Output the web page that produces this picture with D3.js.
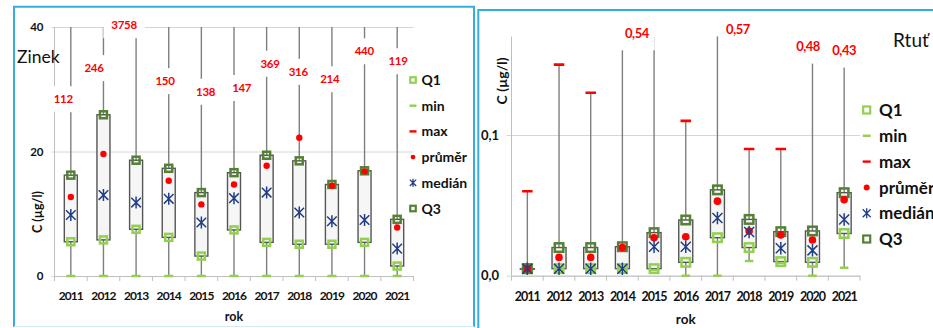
<!DOCTYPE html>
<html>
<head>
<meta charset="utf-8">
<script src="https://cdn.jsdelivr.net/npm/d3@7"></script>
<style>
  html, body { margin: 0; padding: 0; background: #fff; overflow: hidden; }
  svg { display: block; }
</style>
</head>
<body>
<svg id="chart" width="933" height="328"></svg>
<script>
const years = ["2011", "2012", "2013", "2014", "2015", "2016", "2017", "2018", "2019", "2020", "2021"];

// Zinek, C (µg/l)
const zincMin    = [0, 0, 0, 0, 0, 0, 0, 0, 0, 0, 0];
const zincQ1     = [5.5, 5.8, 7.5, 6.2, 3.2, 7.4, 5.4, 5.1, 5.1, 5.4, 1.6];
const zincMedian = [9.8, 13.0, 11.8, 12.4, 8.6, 12.5, 13.4, 10.2, 8.8, 9.0, 4.4];
const zincMean   = [12.7, 19.6, 350, 15.3, 11.5, 14.7, 17.7, 22.2, 14.5, 16.8, 7.8];
const zincQ3     = [16.2, 25.9, 18.6, 17.3, 13.4, 16.6, 19.4, 18.5, 14.7, 16.9, 9.1];
const zincMax    = [112, 246, 3758, 150, 138, 147, 369, 316, 214, 440, 119];
const zincTicks  = [0, 20, 40];

// Rtuť, C (µg/l)
const hgMin    = [0.005, 0.005, 0.005, 0.005, 0.004, 0, 0, 0.0105, 0.009, 0, 0.0057];
const hgQ1     = [0.005, 0.005, 0.005, 0.005, 0.005, 0.0095, 0.027, 0.020, 0.010, 0.0095, 0.030];
const hgMedian = [0.005, 0.005, 0.005, 0.005, 0.0206, 0.0206, 0.041, 0.031, 0.0195, 0.018, 0.040];
const hgMean   = [0.005, 0.013, 0.013, 0.020, 0.027, 0.0277, 0.053, 0.0318, 0.029, 0.0254, 0.054];
const hgQ3     = [0.005, 0.020, 0.020, 0.0206, 0.0306, 0.0396, 0.061, 0.040, 0.0313, 0.0318, 0.059];
const hgMax    = [0.060, 0.150, 0.130, 0.54, 0.54, 0.110, 0.57, 0.090, 0.090, 0.48, 0.43];
const hgTicks  = [0, 0.1];

const legendNames = ["Q1", "min", "max", "průměr", "medián", "Q3"];

const FONT = "Lato, 'Liberation Sans', Arial, sans-serif";
const C = {
  q1: "#92d050", q3: "#548235", min: "#92d050", max: "#ff0000",
  mean: "#ff0000", median: "#203e86", whisker: "#7f7f7f",
  boxStroke: "#555555", boxFill: "#f6f6f6", grid: "#d6d6d6", axis: "#bfbfbf",
  frame: "#35ade2"
};

const cz = d3.formatLocale({ decimal: ",", thousands: "\u00a0", grouping: [3], currency: ["", " Kč"] });

const svg = d3.select("#chart").attr("font-family", FONT);

const starPath = s => `M${-s},${-s}L${s},${s}M${-s},${s}L${s},${-s}M0,${-s * 1.25}L0,${s * 1.25}`;

function drawPanel(P) {
  const g = svg.append("g");
  const x = d3.scaleBand().domain(years).range([P.x0, P.x1]);
  const y = d3.scaleLinear().domain(P.domain).range([P.yBottom, P.yTop]);
  const cx = d => x(d) + x.bandwidth() / 2;
  const rows = years.map((yr, i) => ({
    yr, min: P.min[i], q1: P.q1[i], med: P.median[i], mean: P.mean[i], q3: P.q3[i], max: P.max[i], i
  }));

  // gridlines and value axis
  const yg = g.append("g")
    .attr("transform", `translate(${P.x0},0)`)
    .call(d3.axisLeft(y).tickValues(P.ticks).tickFormat(P.tickFormat)
      .tickSize(-(P.x1 - P.x0)).tickPadding(P.yPad));
  yg.attr("font-family", FONT).attr("font-size", P.yFont);
  yg.select(".domain").remove();
  yg.selectAll(".tick line").attr("x1", -P.tickLen).attr("stroke", C.grid);
  yg.selectAll(".tick text").attr("font-weight", 700).attr("fill", "#111");

  g.append("line")
    .attr("x1", P.x0).attr("x2", P.x0).attr("y1", P.yTop).attr("y2", P.yBottom)
    .attr("stroke", C.axis);

  // category axis
  const xg = g.append("g")
    .attr("transform", `translate(0,${P.yBottom})`)
    .call(d3.axisBottom(x).tickSize(0).tickPadding(P.xPad));
  xg.attr("font-family", FONT).attr("font-size", P.xFont);
  xg.select(".domain").attr("stroke", C.axis);
  xg.selectAll(".tick text").attr("font-weight", 700).attr("fill", "#111")
    .attr("letter-spacing", P.xSpacing);
  g.append("g").selectAll("line")
    .data(d3.range(years.length + 1))
    .join("line")
    .attr("x1", i => P.x0 + i * x.step()).attr("x2", i => P.x0 + i * x.step())
    .attr("y1", P.yBottom).attr("y2", P.yBottom + 5)
    .attr("stroke", C.axis);

  // clipped plotting area
  const clipId = "clip-" + P.id;
  svg.append("clipPath").attr("id", clipId).append("rect")
    .attr("x", P.x0 - 10).attr("y", P.yTop)
    .attr("width", P.x1 - P.x0 + 20).attr("height", P.yBottom - P.yTop + 10);
  const m = g.append("g").attr("clip-path", `url(#${clipId})`);

  // whiskers min → max
  m.selectAll(".whisker").data(rows).join("line")
    .attr("x1", d => cx(d.yr)).attr("x2", d => cx(d.yr))
    .attr("y1", d => y(d.min)).attr("y2", d => y(d.max))
    .attr("stroke", C.whisker).attr("stroke-width", 1.4);

  // maximum value labels on white plates
  const lab = g.append("g");
  rows.forEach(d => {
    const dx = P.labelDx[d.i];
    if (dx === null) return;
    const lx = cx(d.yr) + dx, ly = y(P.labelAt[d.i]);
    const plate = lab.append("rect").attr("fill", "#fff");
    const t = lab.append("text")
      .attr("x", lx).attr("y", ly).attr("dy", "0.36em")
      .attr("text-anchor", "middle")
      .attr("font-size", P.labelFont).attr("font-weight", 700)
      .attr("letter-spacing", P.labelSpacing)
      .attr("fill", "#ff0000")
      .text(P.labelFormat(d.max));
    const w = t.node().getComputedTextLength();
    plate.attr("x", lx - w / 2 - P.platePadX).attr("width", w + 2 * P.platePadX)
      .attr("y", ly - P.plateHalfH).attr("height", 2 * P.plateHalfH);
  });

  // boxes Q1 → Q3
  m.selectAll(".box").data(rows).join("rect")
    .attr("x", d => cx(d.yr) - P.boxW / 2).attr("width", P.boxW)
    .attr("y", d => y(d.q3)).attr("height", d => Math.max(0.5, y(d.q1) - y(d.q3)))
    .attr("fill", C.boxFill).attr("stroke", C.boxStroke).attr("stroke-width", 1.4);

  // min / max dashes
  m.selectAll(".mn").data(rows).join("line")
    .attr("x1", d => cx(d.yr) - P.minW / 2).attr("x2", d => cx(d.yr) + P.minW / 2)
    .attr("y1", d => y(d.min)).attr("y2", d => y(d.min))
    .attr("stroke", C.min).attr("stroke-width", 2.6);
  m.selectAll(".mx").data(rows).join("line")
    .attr("x1", d => cx(d.yr) - P.maxW / 2).attr("x2", d => cx(d.yr) + P.maxW / 2)
    .attr("y1", d => y(d.max)).attr("y2", d => y(d.max))
    .attr("stroke", C.max).attr("stroke-width", 2.6);

  // quartile squares
  const sq = P.sq;
  m.selectAll(".q1").data(rows).join("rect")
    .attr("x", d => cx(d.yr) - sq / 2).attr("y", d => y(d.q1) - sq / 2)
    .attr("width", sq).attr("height", sq)
    .attr("fill", "none").attr("stroke", C.q1).attr("stroke-width", 2.5);
  m.selectAll(".q3").data(rows).join("rect")
    .attr("x", d => cx(d.yr) - sq / 2).attr("y", d => y(d.q3) - sq / 2)
    .attr("width", sq).attr("height", sq)
    .attr("fill", "none").attr("stroke", C.q3).attr("stroke-width", 2.5);

  // mean and median
  m.selectAll(".mean").data(rows).join("circle")
    .attr("cx", d => cx(d.yr)).attr("cy", d => y(d.mean)).attr("r", P.meanR)
    .attr("fill", C.mean);
  m.selectAll(".med").data(rows).join("path")
    .attr("transform", d => `translate(${cx(d.yr)},${y(d.med)})`)
    .attr("d", starPath(P.star))
    .attr("fill", "none").attr("stroke", C.median).attr("stroke-width", 1.5);

  // legend
  const L = P.legend;
  const lg = g.append("g");
  legendNames.forEach((name, k) => {
    const ly = L.y0 + k * L.dy;
    const s = lg.append("g").attr("transform", `translate(${L.x},${ly})`);
    const q = L.sq;
    if (k === 0 || k === 5) {
      s.append("rect").attr("x", -q / 2).attr("y", -q / 2).attr("width", q).attr("height", q)
        .attr("fill", "none").attr("stroke", k === 0 ? C.q1 : C.q3).attr("stroke-width", 2.2);
    } else if (k === 1 || k === 2) {
      s.append("line").attr("x1", -L.dash / 2).attr("x2", L.dash / 2)
        .attr("stroke", k === 1 ? C.min : C.max).attr("stroke-width", 2.4);
    } else if (k === 3) {
      s.append("circle").attr("r", L.r).attr("fill", C.mean);
    } else {
      s.append("path").attr("d", starPath(L.star)).attr("fill", "none")
        .attr("stroke", C.median).attr("stroke-width", 1.3);
    }
    lg.append("text")
      .attr("x", L.tx).attr("y", ly).attr("dy", "0.36em")
      .attr("font-size", L.font).attr("font-weight", 700).attr("fill", "#111")
      .text(name);
  });

  // titles
  g.append("text").attr("x", P.title.x).attr("y", P.title.y)
    .attr("font-size", P.title.size).attr("fill", "#111").text(P.title.text);
  g.append("text").attr("x", (P.x0 + P.x1) / 2).attr("y", P.xTitleY)
    .attr("text-anchor", "middle").attr("font-size", P.xTitleFont)
    .attr("font-weight", 700).attr("fill", "#111").text("rok");
  g.append("text")
    .attr("transform", `translate(${P.yTitle.x},${P.yTitle.y}) rotate(-90)`)
    .attr("text-anchor", "middle").attr("dy", "0.36em")
    .attr("font-size", P.yTitle.size).attr("font-weight", 700).attr("fill", "#111")
    .text("C (µg/l)");
}

// Zinek
drawPanel({
  id: "zn", x0: 54.5, x1: 413.5, yTop: 27, yBottom: 276, domain: [0, 40],
  ticks: zincTicks, tickFormat: d3.format("d"), tickLen: 3, yPad: 11, yFont: 11.5,
  xPad: 15, xFont: 12, xSpacing: -0.9,
  min: zincMin, q1: zincQ1, median: zincMedian, mean: zincMean, q3: zincQ3, max: zincMax,
  labelFormat: d3.format("d"), labelFont: 11.5, labelSpacing: -0.3,
  labelDx: [-7.5, -9.5, -12, -3.7, 4.3, 7.7, 3.4, -1, -2.2, -0.3, 0.8],
  labelAt: [28.4, 33.4, 40.3, 31.3, 29.6, 30.2, 34.1, 32.8, 31.6, 36.1, 34.5],
  platePadX: 8, plateHalfH: 13,
  boxW: 13, minW: 9, maxW: 10, sq: 7, meanR: 3.2, star: 4.8,
  legend: { x: 413, tx: 421.5, y0: 80, dy: 25.7, font: 14, sq: 5.5, dash: 7, r: 2.4, star: 3.2 },
  title: { x: 17, y: 63, size: 17.5, text: "Zinek" },
  xTitleY: 321, xTitleFont: 12.5,
  yTitle: { x: 37, y: 212, size: 12.5 }
});

// Rtuť
drawPanel({
  id: "hg", x0: 511.5, x1: 860, yTop: 36.5, yBottom: 275.7, domain: [0, 0.17],
  ticks: hgTicks, tickFormat: cz.format(".1f"), tickLen: 5, yPad: 12.5, yFont: 13,
  xPad: 16, xFont: 12.5, xSpacing: -1,
  min: hgMin, q1: hgQ1, median: hgMedian, mean: hgMean, q3: hgQ3, max: hgMax,
  labelFormat: cz.format(".2f"), labelFont: 13, labelSpacing: -0.5,
  labelDx: [null, null, null, 14.5, null, null, 20.5, null, null, -4.5, 0],
  labelAt: [null, null, null, 0.1723, null, null, 0.175, null, null, 0.1628, 0.160],
  platePadX: 6, plateHalfH: 17,
  boxW: 14, minW: 8.5, maxW: 10.5, sq: 8.5, meanR: 3.8, star: 5,
  legend: { x: 866.7, tx: 879, y0: 110, dy: 25.8, font: 17, sq: 7, dash: 8, r: 3, star: 4 },
  title: { x: 893, y: 46.5, size: 19, text: "Rtuť" },
  xTitleY: 324, xTitleFont: 13.5,
  yTitle: { x: 502, y: 81, size: 14 }
});

// panel frames
svg.append("path")
  .attr("d", "M14,327V6.7H474V327")
  .attr("fill", "none").attr("stroke", C.frame).attr("stroke-width", 2);
svg.append("line").attr("x1", 14).attr("x2", 474).attr("y1", 326.5).attr("y2", 326.5)
  .attr("stroke", "#cfeef9").attr("stroke-width", 1);
svg.append("path")
  .attr("d", "M478.3,330V10H940")
  .attr("fill", "none").attr("stroke", C.frame).attr("stroke-width", 2);
</script>
</body>
</html>
